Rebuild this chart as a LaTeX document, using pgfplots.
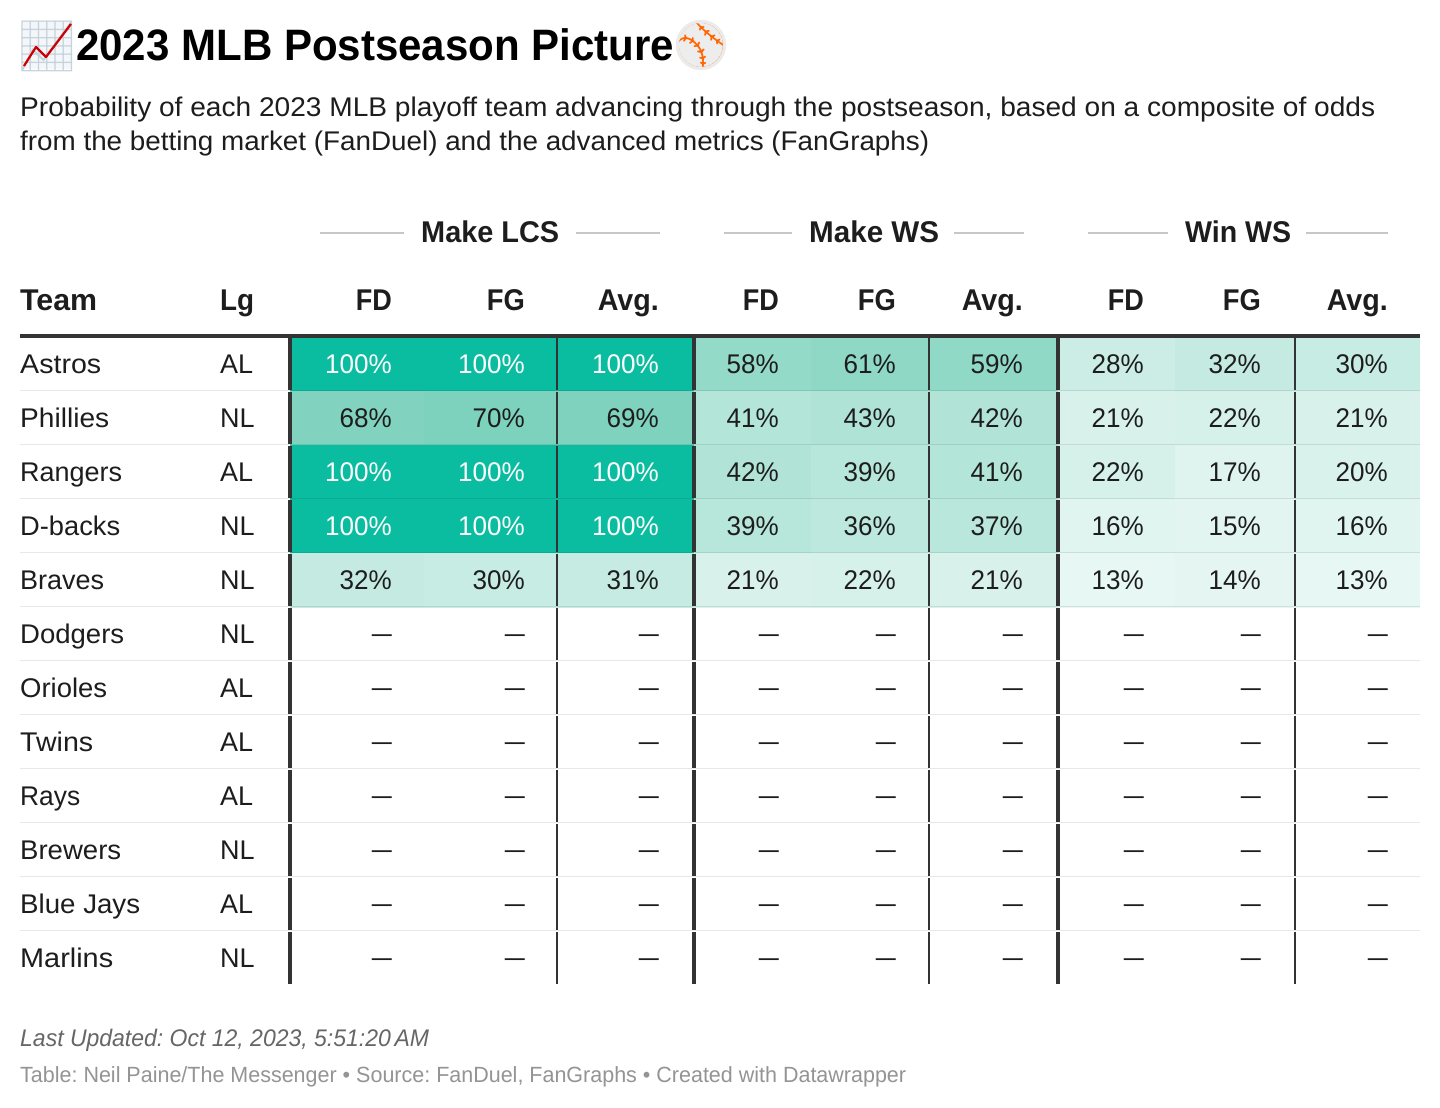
\documentclass[border=0pt]{standalone}
\usepackage{pgfplots}
\pgfplotsset{compat=1.18}
\usepackage{graphicx}
\usepackage{fontspec}
\setmainfont{Liberation Sans}
\newfontfamily\emojifont{Noto Emoji}
\frenchspacing
\definecolor{ink}{HTML}{1D1D1D}
\definecolor{rule}{HTML}{333333}
\newcommand\fs[1]{\fontsize{#1}{#1}\selectfont}
\newcommand\tl[4]{\node[anchor=base west,inner sep=0pt,text=ink] at (axis cs:#1,#2) {\fs{#3}#4};}
\newcommand\tr[4]{\node[anchor=base east,inner sep=0pt,text=ink] at (axis cs:#1,#2) {\fs{#3}#4};}
\newcommand\wl[6][ink]{\node[anchor=base west,inner sep=0pt,text=#1] at (axis cs:#2,#3) {\resizebox{#5pt}{\height}{\fs{#4}#6}};}
\newcommand\hd[3]{\node[anchor=base east,inner sep=0pt,text=ink] at (axis cs:#1,310) {\resizebox{#2pt}{\height}{\fs{30}\bfseries #3}};}
% value cell: x0 x1 y0 y1 right-edge value
\newcommand\hcell[6]{%
  \addplot[patch,patch type=rectangle,shader=flat,point meta=explicit,forget plot] coordinates {(#1,#3) [#6] (#2,#3) [#6] (#2,#4) [#6] (#1,#4) [#6]};
  \ifnum#6>90\relax
    \node[anchor=base east,inner sep=0pt,text=white] at (axis cs:#5,#4-17.6) {\scalebox{.965}[1]{\fs{27}#6\%}};
  \else
    \node[anchor=base east,inner sep=0pt,text=ink] at (axis cs:#5,#4-17.6) {\scalebox{.965}[1]{\fs{27}#6\%}};
  \fi}
% one row of nine values
\def\vrow#1#2#3#4#5#6#7#8#9{%
  \hcell{290}{424}{#1}{#2}{392}{#3}\hcell{424}{557}{#1}{#2}{525}{#4}\hcell{557}{694}{#1}{#2}{659}{#5}%
  \hcell{694}{811}{#1}{#2}{779}{#6}\hcell{811}{929}{#1}{#2}{896}{#7}\hcell{929}{1058}{#1}{#2}{1023}{#8}%
  \vrowii{#1}{#2}{#9}}
\def\vrowii#1#2#3#4#5{\hcell{1058}{1175}{#1}{#2}{1144}{#3}\hcell{1175}{1295}{#1}{#2}{1261}{#4}\hcell{1295}{1419.5}{#1}{#2}{1388}{#5}}
\newcommand\dashes[1]{%
  \tr{392}{#1}{27}{\resizebox{20pt}{\height}{---}}\tr{525}{#1}{27}{\resizebox{20pt}{\height}{---}}\tr{659}{#1}{27}{\resizebox{20pt}{\height}{---}}%
  \tr{779}{#1}{27}{\resizebox{20pt}{\height}{---}}\tr{896}{#1}{27}{\resizebox{20pt}{\height}{---}}\tr{1023}{#1}{27}{\resizebox{20pt}{\height}{---}}%
  \tr{1144}{#1}{27}{\resizebox{20pt}{\height}{---}}\tr{1261}{#1}{27}{\resizebox{20pt}{\height}{---}}\tr{1388}{#1}{27}{\resizebox{20pt}{\height}{---}}}
\begin{document}
\begin{tikzpicture}[x=1pt,y=1pt]
\path[use as bounding box,fill=white] (0,0) rectangle (1440,1108);
\begin{axis}[at={(0,0)},anchor=south west,scale only axis,width=1440pt,height=1108pt,
  xmin=0,xmax=1440,ymin=0,ymax=1108,y dir=reverse,hide axis,clip=false,
  point meta min=0,point meta max=100,
  colormap={mint}{rgb255(0)=(255,255,255) rgb255(70)=(125,210,189) rgb255(100)=(11,189,160)}]
% heat cells
\vrow{338}{391}{100}{100}{100}{58}{61}{59}{28}{32}{30}
\vrow{391}{445}{68}{70}{69}{41}{43}{42}{21}{22}{21}
\vrow{445}{499}{100}{100}{100}{42}{39}{41}{22}{17}{20}
\vrow{499}{553}{100}{100}{100}{39}{36}{37}{16}{15}{16}
\vrow{553}{607}{32}{30}{31}{21}{22}{21}{13}{14}{13}
% row separators
\draw[black,opacity=.09,line width=1.5pt] (axis cs:20,390.7)--(axis cs:1420,390.7) (axis cs:20,444.7)--(axis cs:1420,444.7) (axis cs:20,498.7)--(axis cs:1420,498.7) (axis cs:20,552.7)--(axis cs:1420,552.7) (axis cs:20,660.7)--(axis cs:1420,660.7) (axis cs:20,714.7)--(axis cs:1420,714.7) (axis cs:20,768.7)--(axis cs:1420,768.7) (axis cs:20,822.7)--(axis cs:1420,822.7) (axis cs:20,876.7)--(axis cs:1420,876.7) (axis cs:20,930.7)--(axis cs:1420,930.7) (axis cs:20,606.7)--(axis cs:1420,606.7);
% vertical rules
\draw[rule,line width=3.5pt,dash pattern=on 52.5pt off 1.5pt] (axis cs:290,337.5)--(axis cs:290,984) (axis cs:694,337.5)--(axis cs:694,984) (axis cs:1058,337.5)--(axis cs:1058,984);
\draw[rule,line width=2pt,dash pattern=on 52.5pt off 1.5pt] (axis cs:557,337.5)--(axis cs:557,984) (axis cs:929,337.5)--(axis cs:929,984) (axis cs:1295,337.5)--(axis cs:1295,984);
\draw[rule,line width=4pt] (axis cs:20,336)--(axis cs:1420,336);
% group rules
\draw[black!22,line width=2pt] (axis cs:320,232.5)--(axis cs:404,232.5) (axis cs:576,232.5)--(axis cs:660,232.5) (axis cs:724,232.5)--(axis cs:792,232.5) (axis cs:954,232.5)--(axis cs:1024,232.5) (axis cs:1088,232.5)--(axis cs:1168,232.5) (axis cs:1306,232.5)--(axis cs:1388,232.5);
% title and its two emoji
\definecolor{chartbg}{HTML}{F4F7F9}
\definecolor{chartgrid}{HTML}{C6D2DC}
\fill[chartbg] (axis cs:23,22) rectangle (axis cs:72,69);
\node[anchor=center,inner sep=0pt,text=chartgrid] at (axis cs:47.5,46) {\fs{50}\emojifont 📈};
\draw[red!80!black,line width=2.2pt,line join=round] (axis cs:24,66)--(axis cs:36,47)--(axis cs:46,57)--(axis cs:71,24);
\fill[black!7] (axis cs:701,45) circle[radius=25pt];
\node[anchor=center,inner sep=0pt,text=orange!80!red] at (axis cs:701,45) {\fs{47}\emojifont ⚾};
\draw[black!8,line width=3pt] (axis cs:701,45) circle[radius=23.5pt];
\wl[black]{76}{60}{44}{598}{\bfseries 2023 MLB Postseason Picture}
\wl{20}{116}{27}{1355}{Probability of each 2023 MLB playoff team advancing through the postseason, based on a composite of odds}
\wl{20}{150}{27}{909}{from the betting market (FanDuel) and the advanced metrics (FanGraphs)}
% group heads
\wl{421}{242}{30}{138}{\bfseries Make LCS}
\wl{809}{242}{30}{130}{\bfseries Make WS}
\wl{1185}{242}{30}{106}{\bfseries Win WS}
% column heads
\wl{20}{310}{30}{77}{\bfseries Team}
\wl{220}{310}{30}{34}{\bfseries Lg}
\hd{392}{36}{FD}\hd{525}{38}{FG}\hd{659}{61}{Avg.}
\hd{779}{36}{FD}\hd{896}{38}{FG}\hd{1023}{61}{Avg.}
\hd{1144}{36}{FD}\hd{1261}{38}{FG}\hd{1388}{61}{Avg.}
% teams
\wl{20}{373.4}{27}{81}{Astros}\tl{220}{373.4}{27}{AL}
\wl{20}{427.4}{27}{89}{Phillies}\tl{220}{427.4}{27}{NL}
\wl{20}{481.4}{27}{102}{Rangers}\tl{220}{481.4}{27}{AL}
\wl{20}{535.4}{27}{100}{D-backs}\tl{220}{535.4}{27}{NL}
\wl{20}{589.4}{27}{84}{Braves}\tl{220}{589.4}{27}{NL}
\wl{20}{643.4}{27}{104}{Dodgers}\tl{220}{643.4}{27}{NL}
\wl{20}{697.4}{27}{87}{Orioles}\tl{220}{697.4}{27}{AL}
\wl{20}{751.4}{27}{73}{Twins}\tl{220}{751.4}{27}{AL}
\wl{20}{805.4}{27}{60}{Rays}\tl{220}{805.4}{27}{AL}
\wl{20}{859.4}{27}{101}{Brewers}\tl{220}{859.4}{27}{NL}
\wl{20}{913.4}{27}{120}{Blue Jays}\tl{220}{913.4}{27}{AL}
\wl{20}{967.4}{27}{93}{Marlins}\tl{220}{967.4}{27}{NL}
\dashes{642}\dashes{696}\dashes{750}\dashes{804}\dashes{858}\dashes{912}\dashes{966}
% footer
\wl[black!60]{20}{1046}{24}{409}{\itshape Last Updated: Oct 12, 2023, 5:51:20\,AM}
\wl[black!42]{20}{1082}{22}{886}{Table: Neil Paine/The Messenger • Source: FanDuel, FanGraphs • Created with Datawrapper}
\end{axis}
\end{tikzpicture}
\end{document}
